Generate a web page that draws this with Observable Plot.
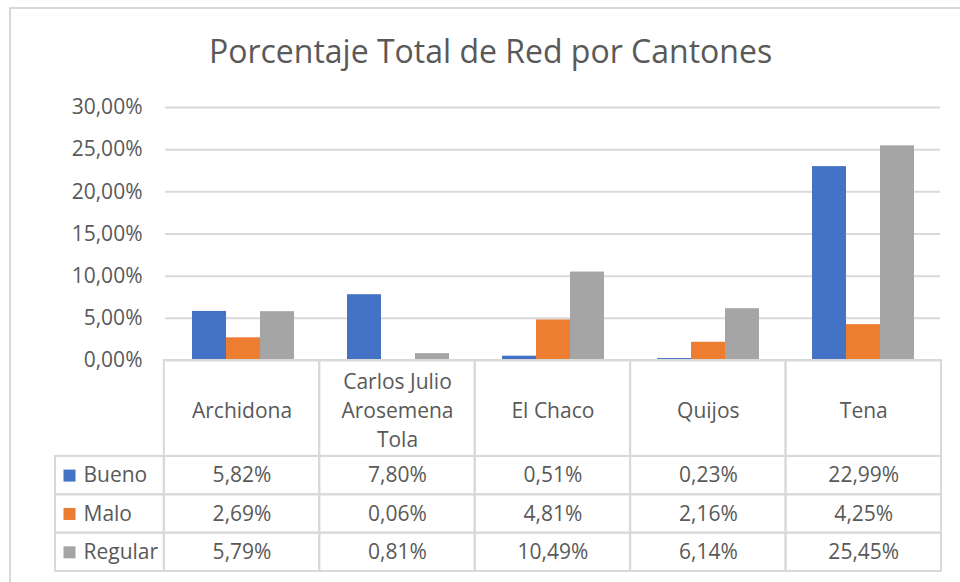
<!DOCTYPE html>
<html>
<head>
<meta charset="utf-8">
<script src="https://cdn.jsdelivr.net/npm/d3@7"></script>
<script src="https://cdn.jsdelivr.net/npm/@observablehq/plot@0.6"></script>
<style>
  html, body { margin: 0; padding: 0; background: #fff; overflow: hidden; }
  #wrap { position: relative; width: 960px; height: 582px; overflow: hidden; font-family: "Open Sans", sans-serif; }
  #frame { position: absolute; left: 9px; top: 7px; width: 990px; height: 620px; border: 2px solid #d9d9d9; box-sizing: border-box; }
  #title { position: absolute; left: 0; width: 981px; top: 31px; text-align: center; font-size: 32px; line-height: 40px; color: #595959; white-space: nowrap; }
  #chart, #table { position: absolute; left: 0; }
  #chart { top: 0; }
  #table { top: 340px; }
</style>
</head>
<body>
<div id="wrap">
  <div id="frame"></div>
  <div id="title">Porcentaje Total de Red por Cantones</div>
  <div id="chart"></div>
  <div id="table"></div>
</div>
<script>
const categories = ["Archidona", "Carlos Julio Arosemena Tola", "El Chaco", "Quijos", "Tena"];
const categoryLabels = ["Archidona", "Carlos Julio\nArosemena\nTola", "El Chaco", "Quijos", "Tena"];
const seriesNames = ["Bueno", "Malo", "Regular"];
const seriesColors = ["#4472C4", "#ED7D31", "#A5A5A5"];
const bueno = [5.82, 7.80, 0.51, 0.23, 22.99];
const malo = [2.69, 0.06, 4.81, 2.16, 4.25];
const regular = [5.79, 0.81, 10.49, 6.14, 25.45];
const yTicks = [0, 5, 10, 15, 20, 25, 30];

const seriesValues = [bueno, malo, regular];
const fmt = d => d.toFixed(2).replace(".", ",") + "%";
const FONT = '"Open Sans", sans-serif';
const TXT = "#595959";
const GRID = "#d9d9d9";
const FS = 21;

const data = [];
categories.forEach((c, i) => seriesNames.forEach((s, j) => data.push({cat: c, series: s, value: seriesValues[j][i]})));

const chart = Plot.plot({
  width: 960, height: 385,
  marginTop: 107, marginBottom: 25, marginLeft: 164, marginRight: 19,
  style: {background: "transparent", fontFamily: FONT, fontSize: FS + "px", color: TXT, overflow: "visible"},
  fx: {domain: categories, padding: 0, axis: null},
  x: {domain: seriesNames, paddingInner: 0, paddingOuter: 0.75, axis: null},
  y: {domain: [0, 30], ticks: yTicks, tickFormat: fmt, tickSize: 0, tickPadding: 23, label: null},
  color: {domain: seriesNames, range: seriesColors},
  marks: [
    Plot.ruleY(yTicks, {stroke: GRID, strokeWidth: 2}),
    Plot.barY(data, {fx: "cat", x: "series", y: "value", fill: "series"})
  ]
});
document.getElementById("chart").appendChild(chart);

// table structure
const rowNames = ["header", ...seriesNames];
const rowStart = [0, 2.5, 3.5, 4.5];
const rowEnd = [2.5, 3.5, 4.5, 5.5];
const cells = [];
rowNames.forEach((r, ri) => {
  if (ri > 0) cells.push({x1: -0.7, x2: 0, y1: rowStart[ri], y2: rowEnd[ri]});
  categories.forEach((c, ci) => cells.push({x1: ci, x2: ci + 1, y1: rowStart[ri], y2: rowEnd[ri]}));
});
const headerTexts = categoryLabels.map((t, i) => ({x: i + 0.5, y: (rowStart[0] + rowEnd[0]) / 2, text: t}));
const valueTexts = [];
seriesNames.forEach((s, j) => categories.forEach((c, i) => valueTexts.push({x: i + 0.5, y: (rowStart[j + 1] + rowEnd[j + 1]) / 2, text: fmt(seriesValues[j][i])})));
const legendRows = seriesNames.map((s, j) => ({x: -0.7, y: (rowStart[j + 1] + rowEnd[j + 1]) / 2, name: s, color: seriesColors[j]}));

const table = Plot.plot({
  width: 960, height: 242,
  marginTop: 20, marginBottom: 11, marginLeft: 55, marginRight: 19,
  style: {background: "transparent", fontFamily: FONT, fontSize: FS + "px", color: TXT},
  x: {domain: [-0.7, 5], axis: null},
  y: {domain: [0, 5.5], reverse: true, axis: null},
  marks: [
    Plot.rect(cells, {x1: "x1", x2: "x2", y1: "y1", y2: "y2", fill: "none", stroke: GRID, strokeWidth: 2}),
    Plot.text(headerTexts, {x: "x", y: "y", text: "text", fill: TXT, lineHeight: 29 / FS, fontSize: FS}),
    Plot.text(valueTexts, {x: "x", y: "y", text: "text", fill: TXT, fontSize: FS}),
    Plot.dot(legendRows, {x: "x", y: "y", dx: 14, symbol: "square", r: 6.77, fill: "color", stroke: null}),
    Plot.text(legendRows, {x: "x", y: "y", dx: 28, text: "name", textAnchor: "start", fill: TXT, fontSize: FS})
  ]
});
document.getElementById("table").appendChild(table);
</script>
</body>
</html>
